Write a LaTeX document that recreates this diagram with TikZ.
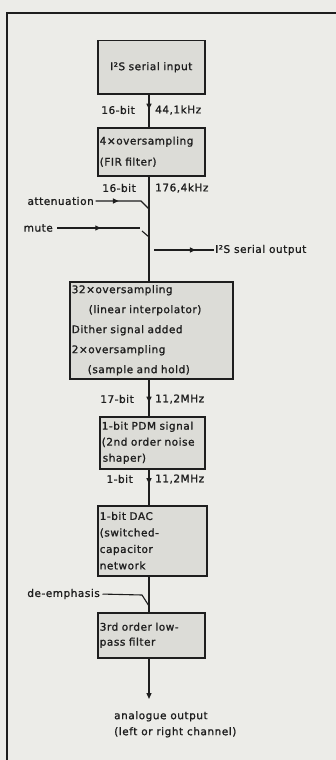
\documentclass[tikz,border=0pt]{standalone}
\usepackage{fontspec}
\setmainfont{DejaVu Sans}[LetterSpace=5,FakeBold=1.2]
\usetikzlibrary{decorations.markings,arrows.meta}
\definecolor{paper}{RGB}{236,236,232}
\definecolor{boxfill}{RGB}{220,220,215}
\definecolor{ink}{RGB}{30,30,30}
\tikzset{
  blk/.style={draw=ink, fill=boxfill, line width=1.5pt, inner xsep=2pt, inner ysep=0pt,
              font=\fontsize{10.5}{16}\selectfont, text=ink, anchor=north west},
  lbl/.style={font=\fontsize{10.5}{12}\selectfont, text=ink, inner sep=0pt},
  wire/.style={draw=ink, line width=1.3pt},
  ctl/.style={draw=ink, line width=1.1pt},
  midarrow/.style={postaction={decorate}, decoration={markings,
      mark=at position #1 with {\arrow{Triangle[length=5.5pt,width=5pt]}}}}
}
\begin{document}
\begin{tikzpicture}[x=1pt,y=-1pt]
\useasboundingbox (0,0) rectangle (336,760);
\fill[paper] (0,0) rectangle (336,760);
% frame
\coordinate (ftl) at (7,13);
\coordinate (ftr) at (336,13);
\coordinate (fbl) at (7,760);
\draw[ink, line width=1.2pt] (ftr) -- (ftl) -- (fbl);
\coordinate (tx) at (149,0);

% boxes
\node[blk, minimum width=107pt, minimum height=53pt, text width=103pt, align=center] (b1) at (97,40) {I²S serial input};
\node[blk, minimum width=107pt, minimum height=48pt, text width=103pt, align=left, font=\fontsize{10.5}{21}\selectfont] (b2) at (97,127) {4×oversampling\\(FIR filter)};
\node[blk, minimum width=163pt, minimum height=97pt, text width=159pt, align=left, font=\fontsize{10.5}{20}\selectfont] (b3) at (69,281)
  {32×oversampling\\\hspace*{17pt}(linear interpolator)\\Dither signal added\\2×oversampling\\\hspace*{16pt}(sample and hold)};
\node[blk, minimum width=105pt, minimum height=52pt, text width=101pt, align=left] (b4) at (99,416) {1-bit PDM signal\\(2nd order noise\\\hspace*{1pt}shaper)};
\node[blk, minimum width=109pt, minimum height=70pt, text width=105pt, align=left, font=\fontsize{10.5}{16.5}\selectfont] (b5) at (97,505) {1-bit DAC\\(switched-\\capacitor\\network};
\node[blk, minimum width=107pt, minimum height=45pt, text width=103pt, align=left, font=\fontsize{10.5}{15}\selectfont] (b6) at (97,612) {3rd order low-\\pass filter};

% trunk connectors
\draw[wire, midarrow=0.45] (b1.south -| tx) -- (b2.north -| tx);
\draw[wire] (b2.south -| tx) -- (b3.north -| tx);
\draw[wire, midarrow=0.62] (b3.south -| tx) -- (b4.north -| tx);
\draw[wire, midarrow=0.4] (b4.south -| tx) -- (b5.north -| tx);
\draw[wire] (b5.south -| tx) -- (b6.north -| tx);
\coordinate (outtip) at (149,699);
\draw[wire, -{Triangle[length=6pt,width=5pt]}] (b6.south -| tx) -- (outtip);

% rate labels
\node[lbl, anchor=east] (l1a) at (135,110) {16-bit};
\node[lbl, anchor=west] (l1b) at (155,110) {44,1kHz};
\node[lbl, anchor=east] (l2a) at (136,188) {16-bit};
\node[lbl, anchor=west] (l2b) at (155,188) {176,4kHz};
\node[lbl, anchor=east] (l3a) at (134,399) {17-bit};
\node[lbl, anchor=west] (l3b) at (155,399) {11,2MHz};
\node[lbl, anchor=east] (l4a) at (133,479) {1-bit};
\node[lbl, anchor=west] (l4b) at (155,479) {11,2MHz};

% control inputs
\node[lbl, anchor=east] (att) at (94,201) {attenuation};
\coordinate (attk) at (141,201);
\coordinate (attj) at (149,209);
\draw[ctl, shorten <=1.5pt, midarrow=0.42] (att.east) -- (attk) -- (attj);

\node[lbl, anchor=east] (mute) at (53,228) {mute};
\coordinate (mutek) at (140,228);
\coordinate (mutes1) at (142,231);
\coordinate (mutes2) at (149,237);
\draw[ctl, shorten <=4pt, midarrow=0.55] (mute.east) -- (mutek);
\draw[ctl] (mutes1) -- (mutes2);

\coordinate (os) at (154,250);
\node[lbl, anchor=west] (iso) at (215,250) {I²S serial output};
\draw[ctl, shorten >=1.5pt, midarrow=0.68] (os) -- (iso.west);

\node[lbl, anchor=east] (deem) at (100,594) {de-emphasis};
\coordinate (deemk) at (142,595);
\coordinate (deemj) at (149,606);
\draw[ctl, shorten <=2.5pt] (deem.east) -- (deemk) -- (deemj);

% output text
\node[lbl, anchor=north west, align=left, font=\fontsize{10.5}{16}\selectfont] (aout) at (114,711) {analogue output\\(left or right channel)};
\end{tikzpicture}
\end{document}
